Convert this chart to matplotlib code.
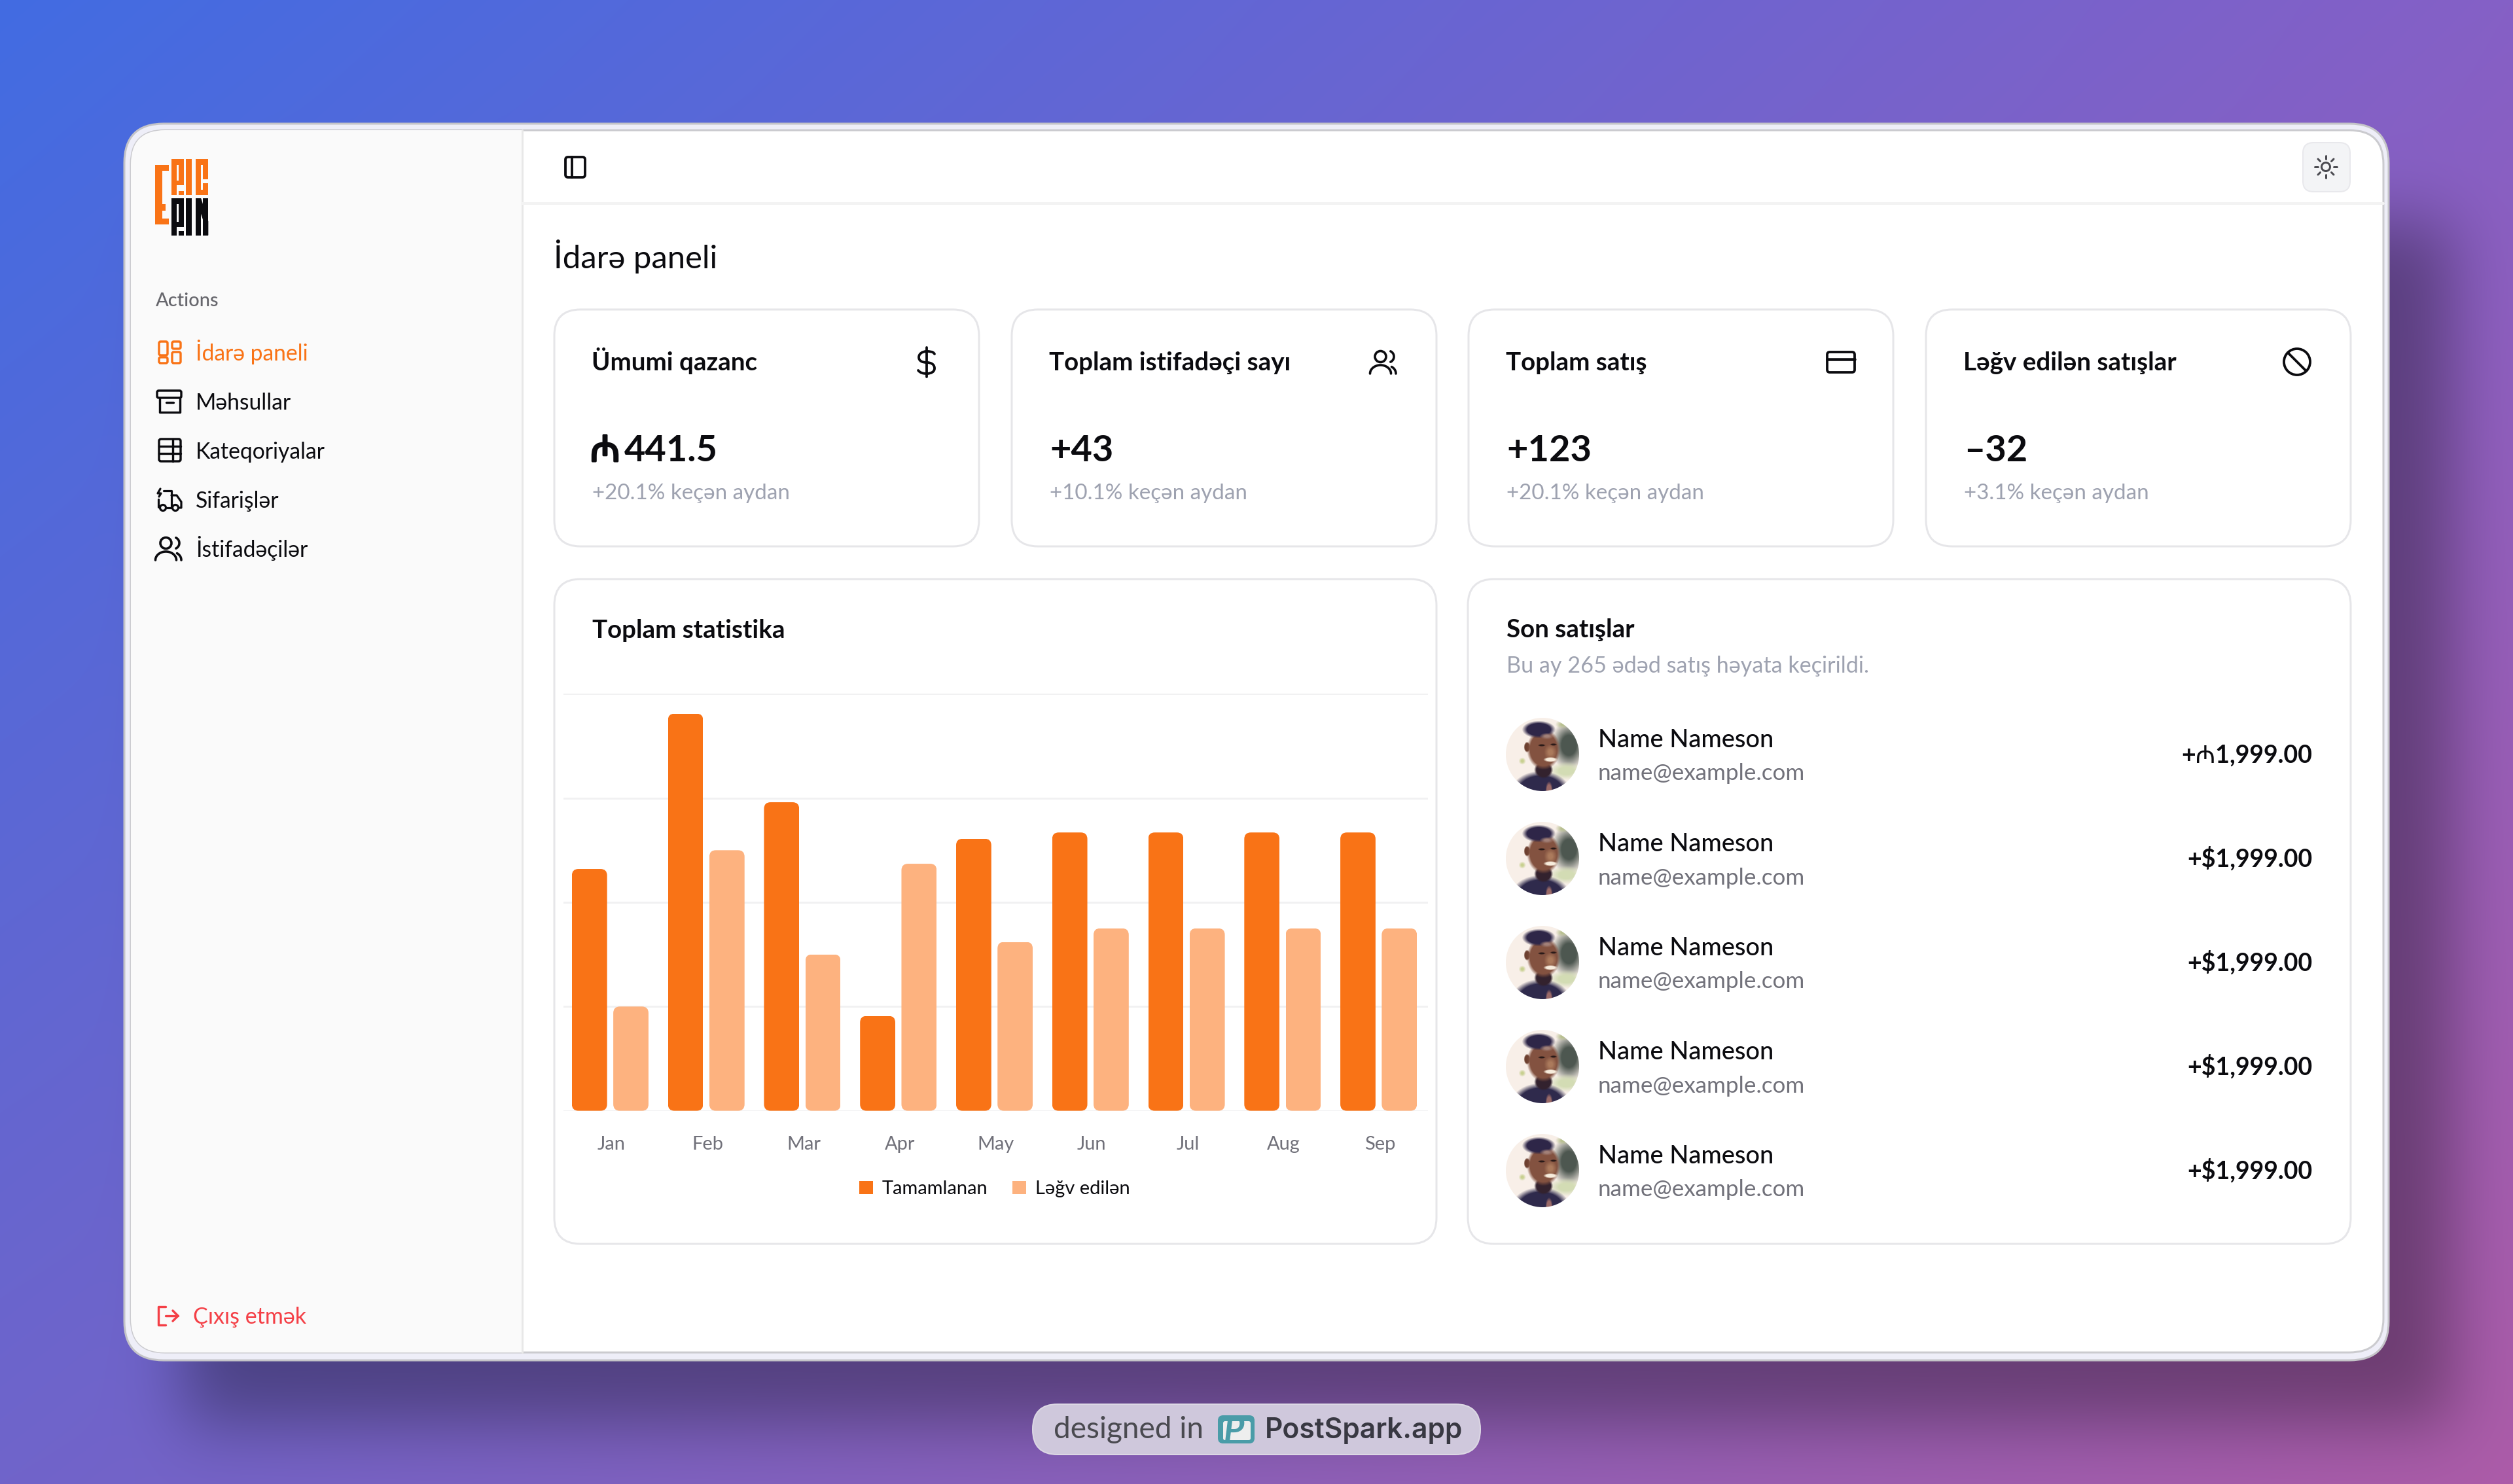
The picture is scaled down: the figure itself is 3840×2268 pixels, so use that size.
import math

import matplotlib
matplotlib.use("Agg")
import matplotlib.patheffects as pe
import matplotlib.pyplot as plt
import numpy as np
from matplotlib.lines import Line2D
from matplotlib.patches import Circle, FancyBboxPatch, PathPatch, Rectangle, Polygon
from matplotlib.path import Path

WIDTH, HEIGHT = 3840, 2268

months = ["Jan", "Feb", "Mar", "Apr", "May", "Jun", "Jul", "Aug", "Sep"]
completed = [232, 381, 296, 91, 261, 267, 267, 267, 267]
cancelled = [100, 250, 150, 237, 162, 175, 175, 175, 175]

card_titles = ["Ümumi qazanc", "Toplam istifadəçi sayı", "Toplam satış", "Ləğv edilən satışlar"]
card_values = ["441.5", "+43", "+123", "–32"]
card_notes = ["+20.1% keçən aydan", "+10.1% keçən aydan", "+20.1% keçən aydan", "+3.1% keçən aydan"]
menu_items = ["İdarə paneli", "Məhsullar", "Kateqoriyalar", "Sifarişlər", "İstifadəçilər"]
sale_amounts = ["+₼1,999.00", "+$1,999.00", "+$1,999.00", "+$1,999.00", "+$1,999.00"]

ORANGE = "#f97316"
PEACH = "#fdb27f"
INK = "#0b0b0f"
GREY = "#71717a"
LIGHT = "#9ea2b0"
RED = "#f43f46"

plt.rcParams["font.family"] = ["Lato", "Noto Sans", "DejaVu Sans"]

fig = plt.figure(figsize=(WIDTH / 100, HEIGHT / 100), dpi=100)
bg = fig.add_axes([0, 0, 1, 1])
bg.set_xlim(0, WIDTH)
bg.set_ylim(HEIGHT, 0)
bg.axis("off")


def px(n):
    return n * 0.72


def box(x0, y0, x1, y1, r, fc="none", ec="none", lw=0, **kw):
    patch = FancyBboxPatch((x0, y0), x1 - x0, y1 - y0, boxstyle=f"round,pad=0,rounding_size={r}",
                           fc=fc, ec=ec, lw=px(lw), **kw)
    bg.add_patch(patch)
    return patch


def line(xs, ys, color=INK, lw=3.8):
    bg.add_line(Line2D(xs, ys, color=color, lw=px(lw), solid_capstyle="round", solid_joinstyle="round"))


def arc(cx, cy, rx, ry, a0, a1, color=INK, lw=3.8):
    t = np.radians(np.linspace(a0, a1, 40))
    line(cx + rx * np.cos(t), cy - ry * np.sin(t), color, lw)


def label(x, y, s, size, color=INK, weight="normal", ha="left", **kw):
    return bg.text(x, y, s, fontsize=px(size), color=color, fontweight=weight, ha=ha, va="baseline", **kw)


def erf_band(n, a, b, sigma):
    return np.array([0.5 * (math.erf((i - a) / sigma) - math.erf((i - b) / sigma)) for i in range(n)])


# backdrop: four corner gradient with the window's soft shadow
u = np.linspace(0, 1, WIDTH)[None, :, None]
v = np.linspace(0, 1, HEIGHT)[:, None, None]
tl, tr = np.array([66, 108, 226.0]), np.array([133, 96, 198.0])
bl, br = np.array([112, 100, 202.0]), np.array([172, 92, 168.0])
grad = (1 - v) * ((1 - u) * tl + u * tr) + v * ((1 - u) * bl + u * br)
shadow = np.outer(erf_band(HEIGHT, 340, 2175, 75), erf_band(WIDTH, 280, 3745, 70))
grad = grad * (1 - 0.34 * shadow[:, :, None])
bg.imshow(grad / 255, extent=(0, WIDTH, HEIGHT, 0), aspect="auto", zorder=0)

# window frame
box(190, 189, 3650, 2079, 60, fc="#eeeef8", ec="#c4c4c8", lw=3)
window = box(200, 199, 3642, 2067, 52, fc="white", ec="#cbcbcf", lw=3)
side = Rectangle((200, 199), 598, 1868, fc="#fafafa", ec="none")
bg.add_patch(side)
side.set_clip_path(window)
line([798, 798], [199, 2067], "#e8e8e8", 3)
line([798, 3642], [311, 311], "#f3f3f3", 4)


# logo
def logo_rects(rects, color):
    for x0, y0, x1, y1 in rects:
        bg.add_patch(Rectangle((225 + x0 / 3, 235 + y0 / 3), (x1 - x0) / 3, (y1 - y0) / 3, fc=color, ec="none"))


logo_rects([(37, 50, 100, 78), (37, 50, 68, 325), (37, 232, 85, 262), (37, 296, 100, 325),
            (110, 25, 135, 190), (110, 25, 168, 50), (143, 25, 168, 145), (110, 122, 168, 145),
            (143, 170, 168, 190), (178, 25, 203, 190),
            (222, 25, 247, 190), (222, 25, 280, 50), (255, 25, 280, 118), (255, 135, 280, 190),
            (222, 166, 280, 190)], ORANGE)
logo_rects([(110, 205, 135, 375), (110, 205, 168, 230), (143, 205, 168, 335), (110, 312, 168, 335),
            (143, 355, 168, 375), (178, 205, 203, 375),
            (222, 205, 247, 375), (255, 205, 280, 375)], INK)
bg.add_patch(Polygon([(225 + 222 / 3, 235 + 205 / 3), (225 + 247 / 3, 235 + 205 / 3),
                      (225 + 280 / 3, 235 + 310 / 3), (225 + 280 / 3, 235 + 375 / 3)], fc=INK, ec="none"))

# sidebar
label(238, 468, "Actions", 29, "#66666c", "medium")
menu_base = [551, 626, 701, 776, 851]
for i, (name, yb) in enumerate(zip(menu_items, menu_base)):
    label(299, yb, name, 33.7, ORANGE if i == 0 else INK)

for rect in [(243, 522, 256, 543), (263, 522, 276, 533), (243, 546, 256, 555), (263, 538, 276, 555)]:
    box(*rect, 2.5, ec=ORANGE, lw=3.4)

box(240, 597, 277, 608, 2.5, ec=INK, lw=3.4)
line([244, 244, 275, 275], [608, 630, 630, 608], lw=3.4)
line([254, 265], [615, 615], lw=3.4)

box(243, 671, 276, 705, 3, ec=INK, lw=3.4)
line([243, 276], [682, 682], lw=3.4)
line([243, 276], [693, 693], lw=3.4)
line([264, 264], [671, 705], lw=3.4)

line([245, 241, 246, 243], [747, 754, 754, 759], lw=3.2)
line([250, 262, 262], [750, 750, 775], lw=3.2)
line([242, 242], [763, 775], lw=3.2)
line([262, 270, 277, 277, 273], [757, 757, 767, 776, 776], lw=3.2)
line([254, 263], [776, 776], lw=3.2)
for wx in (249, 268):
    bg.add_patch(Circle((wx, 776), 4.5, fc="#fafafa", ec=INK, lw=px(3.2)))


def users_icon(cx, cy):
    bg.add_patch(Circle((cx - 5.5, cy - 9), 8.5, fc="none", ec=INK, lw=px(3.6)))
    arc(cx - 5.5, cy + 17, 16, 13, 180, 0, lw=3.6)
    arc(cx + 6, cy - 9, 9, 9, 65, -65, lw=3.6)
    arc(cx + 5, cy + 17, 13, 12, 60, 0, lw=3.6)


users_icon(259, 839)

line([253, 242, 242, 253], [1997, 1997, 2025, 2025], RED, 3.4)
line([253, 272], [2011, 2011], RED, 3.4)
line([264, 272, 264], [2003, 2011, 2019], RED, 3.4)
label(295, 2023, "Çıxış etmək", 34, RED)

# top bar
box(864, 240, 894, 271, 4, ec=INK, lw=3.8)
line([874, 874], [240, 271])
box(3519, 218, 3591, 293, 16, fc="#f3f4f6", ec="#e8e8ec", lw=2)
bg.add_patch(Circle((3554, 255), 6.5, fc="none", ec="#4a4a50", lw=px(3)))
for a in range(0, 360, 45):
    c, s = math.cos(math.radians(a)), math.sin(math.radians(a))
    line([3554 + 12 * c, 3554 + 17 * c], [255 + 12 * s, 255 + 17 * s], "#4a4a50", 3)

label(846, 410, "İdarə paneli", 49)

# stat cards
card_x = [847, 1546, 2244, 2943]
for x0, title, value, note in zip(card_x, card_titles, card_values, card_notes):
    box(x0, 473, x0 + 649, 835, 40, fc="white", ec="#e6e6e9", lw=3)
    label(x0 + 57, 566, title, 38.5, INK, "bold")
    label(x0 + 58 if value[0] != "4" else 954, 705, value, 56, INK, "bold")
    label(x0 + 58, 763, note, 33.1, LIGHT)
label(902, 705, "₼", 56, INK, "bold", path_effects=[pe.withStroke(linewidth=px(3), foreground=INK)])

s_path = Path([(1428, 541), (1426, 537), (1420, 537), (1416, 537), (1409, 537), (1404, 541), (1404, 546),
               (1404, 552), (1410, 554), (1416, 554), (1423, 554), (1428, 557), (1428, 563),
               (1428, 568), (1423, 571), (1416, 571), (1411, 571), (1406, 570), (1403, 566)],
              [Path.MOVETO] + [Path.CURVE4] * 18)
bg.add_patch(PathPatch(s_path, fc="none", ec=INK, lw=px(3.8), capstyle="round"))
line([1416, 1416], [531, 576])
users_icon(2115, 554)
box(2792, 538, 2834, 569, 4, ec=INK, lw=3.8)
line([2792, 2834], [549, 549], lw=4.5)
bg.add_patch(Circle((3510, 553), 20, fc="none", ec=INK, lw=px(3.8)))
line([3496, 3524], [539, 567])

# chart card
box(847, 885, 2195, 1901, 40, fc="white", ec="#e6e6e9", lw=3)
label(905, 975, "Toplam statistika", 38.5, INK, "bold")

AX_L, AX_R, AX_T, AX_B = 861, 2182, 1060.4, 1697.6
ax = fig.add_axes([AX_L / WIDTH, 1 - AX_B / HEIGHT, (AX_R - AX_L) / WIDTH, (AX_B - AX_T) / HEIGHT])
ax.patch.set_alpha(0)
ax.set_xlim(-0.5, len(months) - 0.5)
ax.set_ylim(0, 400)
for spine in ax.spines.values():
    spine.set_visible(False)
ax.set_yticks([0, 100, 200, 300, 400])
ax.set_yticklabels([])
ax.set_xticks(range(len(months)))
ax.set_xticklabels(months, fontsize=px(29), color=GREY)
ax.tick_params(length=0, axis="both")
ax.tick_params(axis="x", pad=px(38))
ax.grid(axis="y", color="#f1f1f2", lw=px(3))
ax.set_axisbelow(True)

bar_w = 0.3665
pos = np.arange(len(months)) - 0.0136
bars_a = ax.bar(pos - 0.2155, completed, bar_w, color=ORANGE, label="Tamamlanan")
bars_b = ax.bar(pos + 0.2155, cancelled, bar_w, color=PEACH, label="Ləğv edilən")

# round the bar corners with a clip of the same size
band_px = (AX_R - AX_L) / len(months)
y_per_px = 400 / (AX_B - AX_T)
aspect = y_per_px * band_px
for rect in list(bars_a) + list(bars_b):
    clip = FancyBboxPatch((rect.get_x(), 0), rect.get_width(), rect.get_height(),
                          boxstyle=f"round,pad=0,rounding_size={10 / band_px}",
                          mutation_aspect=aspect, transform=ax.transData)
    rect.set_clip_path(clip)

ax.legend(handles=[bars_a, bars_b], loc="center", bbox_to_anchor=(1520 / WIDTH, 1 - 1817 / HEIGHT),
          bbox_transform=fig.transFigure, ncol=2, frameon=False, fontsize=px(29), handlelength=0.7,
          handleheight=0.7, handletextpad=0.5, columnspacing=1.3, labelcolor=INK)

# recent sales card
box(2243, 885, 3592, 1901, 40, fc="white", ec="#e6e6e9", lw=3)
label(2302, 974, "Son satışlar", 38.5, INK, "bold")
label(2302, 1028, "Bu ay 265 ədəd satış həyata keçirildi.", 34.2, LIGHT)

# soft blobs standing in for the photo: x, y, rx, ry in disc units, colour, edge softness
avatar_blobs = [
    (0.72, -0.25, 0.50, 0.68, "#4d5750", 0.6),
    (0.55, -0.82, 0.20, 0.12, "#b8c090", 0.8),
    (0.65, 0.45, 0.50, 0.25, "#d3dcb4", 0.6),
    (-0.55, 0.18, 0.10, 0.10, "#c8d090", 0.7),
    (-0.05, 1.00, 0.80, 0.55, "#2f2a4c", 0.25),
    (0.03, 0.42, 0.26, 0.24, "#33222e", 0.25),
    (0.18, 0.98, 0.10, 0.25, "#9a6a68", 0.4),
    (-0.42, -0.20, 0.09, 0.15, "#6d4030", 0.3),
    (0.03, -0.14, 0.46, 0.56, "#835240", 0.2),
    (0.22, -0.06, 0.18, 0.22, "#ab7a5c", 0.7),
    (-0.10, -0.68, 0.46, 0.24, "#2e2648", 0.3),
    (0.12, -0.50, 0.20, 0.09, "#a28078", 0.7),
    (-0.02, -0.25, 0.11, 0.035, "#2a1a18", 0.5),
    (0.30, -0.27, 0.10, 0.035, "#2a1a18", 0.5),
    (0.22, 0.14, 0.20, 0.07, "#f7ecdc", 0.4),
]


def avatar_image(n=112):
    grid = (np.arange(n) + 0.5) / n * 2 - 1
    xx, yy = np.meshgrid(grid, grid)
    img = np.ones((n, n, 3)) * np.array(matplotlib.colors.to_rgb("#f8efe8"))
    for bx, by, rx, ry, col, soft in avatar_blobs:
        d = np.sqrt(((xx - bx) / rx) ** 2 + ((yy - by) / ry) ** 2)
        alpha = np.clip((1 - d) / soft, 0, 1)[:, :, None]
        img = img * (1 - alpha) + np.array(matplotlib.colors.to_rgb(col)) * alpha
    return img


face = avatar_image()
for i, amount in enumerate(sale_amounts):
    dy = 159 * i
    disc = Circle((2357, 1153 + dy), 56, fc="none", ec="none")
    bg.add_patch(disc)
    im = bg.imshow(face, extent=(2301, 2413, 1153 + dy + 56, 1153 + dy - 56), aspect="auto", zorder=1.5,
                   interpolation="bilinear")
    im.set_clip_path(disc)
    label(2442, 1142 + dy, "Name Nameson", 38, INK, "medium")
    label(2442, 1192.5 + dy, "name@example.com", 35, GREY)
    label(3533, 1165 + dy, amount, 37.5, INK, "bold", ha="right")

# badge
box(1578, 2146, 2262, 2223, 38, fc="#cfc8dc", ec="#dcd8e4", lw=2)
label(1610, 2198, "designed in", 46, "#4a4a50")
box(1861, 2163, 1917, 2206, 8, fc="#4a9ca8")
box(1869, 2172, 1911, 2201, 3, fc="#eeeeee")
label(1886, 2203, "P", 54, "#4a9ca8", "bold", ha="center", fontstyle="italic")
label(1933, 2198, "PostSpark.app", 42.5, "#383842", "semibold", family="Inter")

fig.savefig("out.png", dpi=100)
